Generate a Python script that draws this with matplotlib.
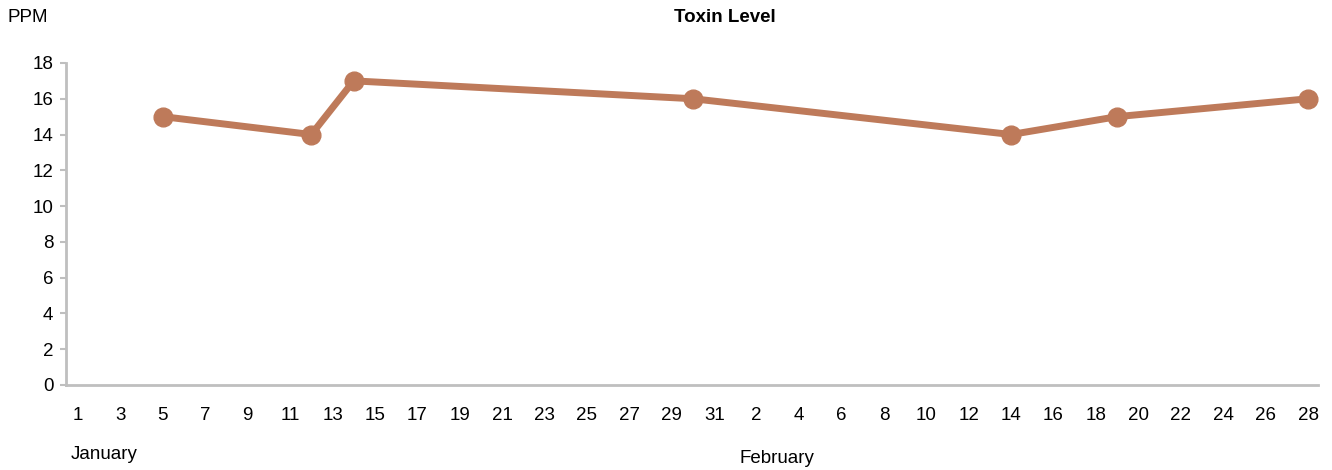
import pandas as pd
import matplotlib.pyplot as plt
import matplotlib.dates as mdates

plt.rcParams['font.family'] = ['Liberation Sans', 'DejaVu Sans']

sample_dates = ['2023-01-05', '2023-01-12', '2023-01-14', '2023-01-30',
                '2023-02-14', '2023-02-19', '2023-02-28']
toxin_ppm = [15, 14, 17, 16, 14, 15, 16]
y_ticks = [0, 2, 4, 6, 8, 10, 12, 14, 16, 18]

dates = pd.to_datetime(sample_dates)
tick_dates = pd.date_range('2023-01-01', '2023-02-28', freq='2D')

fig = plt.figure(figsize=(13.32, 4.70), dpi=100)
ax = fig.add_axes([0.0495, 0.181, 0.94, 0.685])

line_color = '#BE7A5A'
ax.plot(dates, toxin_ppm, color=line_color, lw=5, marker='o', ms=13.5,
        solid_joinstyle='round', solid_capstyle='round')

ax.set_xlim(mdates.date2num(pd.Timestamp('2023-01-01')) - 0.57,
            mdates.date2num(pd.Timestamp('2023-02-28')) + 0.47)
ax.set_ylim(0, 18)
ax.set_yticks(y_ticks)
ax.set_xticks(tick_dates)
ax.xaxis.set_major_formatter(mdates.DateFormatter('%-d'))

for side in ['top', 'right']:
    ax.spines[side].set_visible(False)
for side in ['left', 'bottom']:
    ax.spines[side].set_color('#bfbfbf')
    ax.spines[side].set_linewidth(2)

ax.tick_params(axis='y', length=4, width=1.5, color='#bfbfbf', labelsize=13.5, pad=5)
ax.tick_params(axis='x', length=0, labelsize=13.5, pad=16)

fig.text(0.006, 0.962, 'PPM', fontsize=13.5, va='center', ha='left')
fig.text(0.5445, 0.962, 'Toxin Level', fontsize=13.5, fontweight='bold', va='center', ha='center')
fig.text(0.053, 0.032, 'January', fontsize=13.5, va='center', ha='left')
fig.text(0.555, 0.025, 'February', fontsize=13.5, va='center', ha='left')

fig.savefig('out.png', dpi=100)
